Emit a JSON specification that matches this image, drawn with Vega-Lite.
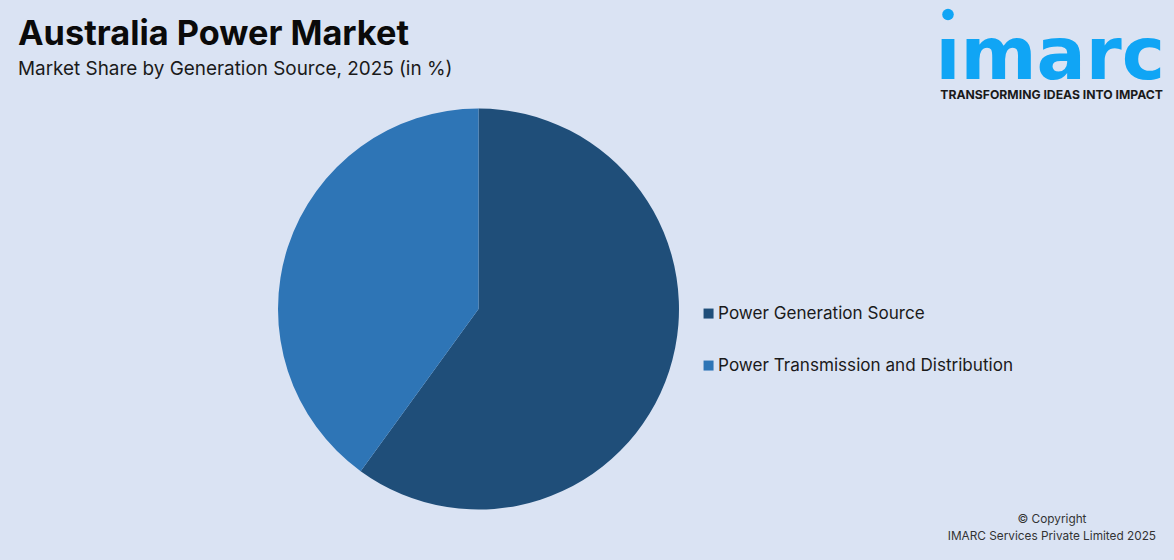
{
  "$schema": "https://vega.github.io/schema/vega-lite/v6.json",
  "background": "#dae3f3",
  "autosize": {"type": "none"},
  "padding": {"left": 278, "top": 108.5, "right": 495, "bottom": 50.5},
  "width": 401,
  "height": 401,
  "config": {"view": {"stroke": null}},
  "title": {
    "text": "Australia Power Market",
    "subtitle": "Market Share by Generation Source, 2025 (in %)",
    "anchor": "start",
    "frame": "group",
    "dx": -260,
    "offset": -70,
    "font": "Inter",
    "fontSize": 34.3,
    "fontWeight": 700,
    "color": "#0a0a0a",
    "subtitleFont": "Inter",
    "subtitleFontSize": 18.9,
    "subtitleFontWeight": 400,
    "subtitleColor": "#1a1a1a",
    "subtitlePadding": 8
  },
  "layer": [
    {
      "data": {
        "values": [
          {"segment": "Power Generation Source", "share": 60},
          {"segment": "Power Transmission and Distribution", "share": 40}
        ]
      },
      "mark": {"type": "arc"},
      "encoding": {
        "theta": {"field": "share", "type": "quantitative", "stack": true},
        "order": {"field": "share", "type": "quantitative", "sort": "descending"},
        "color": {
          "field": "segment",
          "type": "nominal",
          "sort": null,
          "scale": {"range": ["#1f4e79", "#2e75b6"]},
          "legend": {
            "title": null,
            "orient": "none",
            "legendX": 422,
            "legendY": 196.5,
            "symbolType": "square",
            "symbolSize": 100,
            "symbolStrokeWidth": 0,
            "labelFont": "Inter",
            "labelFontSize": 17.1,
            "labelColor": "#1a1a1a",
            "labelLimit": 400,
            "rowPadding": 34,
            "labelOffset": 1
          }
        }
      }
    },
    {
      "data": {"values": [{"label": "ımarc"}]},
      "mark": {"type": "text", "font": "DejaVu Sans", "fontSize": 73, "fontWeight": 700, "align": "right", "baseline": "alphabetic", "color": "#10a5f5"},
      "encoding": {
        "text": {"field": "label"},
        "x": {"value": 887},
        "y": {"value": -30}
      }
    },
    {
      "data": {"values": [{"label": "logo dot"}]},
      "mark": {"type": "point", "shape": "circle", "filled": true, "size": 133, "opacity": 1, "color": "#10a5f5"},
      "encoding": {
        "x": {"value": 670},
        "y": {"value": -94}
      }
    },
    {
      "data": {"values": [{"label": "TRANSFORMING IDEAS INTO IMPACT"}]},
      "mark": {"type": "text", "font": "Inter", "fontSize": 12.2, "fontWeight": 700, "align": "right", "color": "#1a1a1a"},
      "encoding": {
        "text": {"field": "label"},
        "x": {"value": 885},
        "y": {"value": -14}
      }
    },
    {
      "data": {"values": [{"label": "© Copyright"}]},
      "mark": {"type": "text", "font": "Inter", "fontSize": 11.8, "align": "center", "color": "#333333"},
      "encoding": {
        "text": {"field": "label"},
        "x": {"value": 774},
        "y": {"value": 410.5}
      }
    },
    {
      "data": {"values": [{"label": "IMARC Services Private Limited 2025"}]},
      "mark": {"type": "text", "font": "Inter", "fontSize": 11.8, "align": "right", "color": "#333333"},
      "encoding": {
        "text": {"field": "label"},
        "x": {"value": 878},
        "y": {"value": 427.5}
      }
    }
  ]
}
